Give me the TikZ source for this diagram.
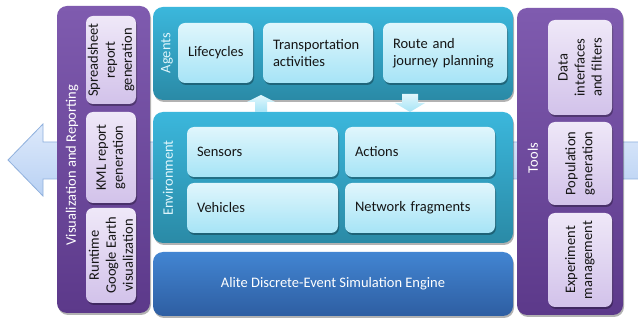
\documentclass[tikz,border=0pt]{standalone}
\usepackage{fontspec}
\setmainfont{Carlito}
\usetikzlibrary{shadows}
\definecolor{purpA}{HTML}{7F5BAF}
\definecolor{purpB}{HTML}{5C398A}
\definecolor{lavA}{HTML}{EFE8F8}
\definecolor{lavB}{HTML}{D2C2EA}
\definecolor{tealA}{HTML}{3BB7DC}
\definecolor{tealB}{HTML}{2A8AA6}
\definecolor{cyanA}{HTML}{E0F6FC}
\definecolor{cyanB}{HTML}{A6E4F6}
\definecolor{blueA}{HTML}{4285D2}
\definecolor{blueB}{HTML}{2E5EA2}
\definecolor{arrA}{HTML}{DDE9FB}
\definecolor{arrB}{HTML}{B9D1F3}
\definecolor{arrL}{HTML}{8FB0DD}
\definecolor{txt}{HTML}{151515}
\begin{document}
\begin{tikzpicture}[x=1pt,y=-1pt,font=\fontsize{14.5}{17}\selectfont,
  shad/.style={drop shadow={shadow xshift=1pt,shadow yshift=-2pt,opacity=0.3,fill=black}},
  panel/.style={rectangle,rounded corners=10pt,top color=purpA,bottom color=purpB,draw=none,shad,inner sep=0pt},
  pbox/.style={rectangle,rounded corners=7pt,top color=lavA,bottom color=lavB,draw=none,shad,inner sep=0pt},
  tpanel/.style={rectangle,rounded corners=10pt,top color=tealA,bottom color=tealB,draw=none,shad,inner sep=0pt},
  cbox/.style={rectangle,rounded corners=7pt,top color=cyanA,bottom color=cyanB,draw=none,shad,inner sep=0pt},
  btext/.style={text=txt,align=left,inner xsep=10pt,inner ysep=0pt},
  rtext/.style={rotate=90,text=txt,align=center,inner sep=0pt},
  wlabel/.style={rotate=90,text=white,inner sep=0pt},
  clabel/.style={rotate=90,text=cyanA,inner sep=0pt},
  bigarrow/.style={top color=arrA,bottom color=arrB,draw=arrL,line width=0.8pt,line join=miter},
  smallarrow/.style={top color=cyanA,bottom color=cyanB,draw=none}]
\useasboundingbox (0,0) rectangle (638,323);
\fill[white] (0,0) rectangle (638,323);
% background arrow
\path[bigarrow] (8,160) -- (43,124) -- (43,142) -- (640,142) -- (640,179) -- (43,179) -- (43,196) -- cycle;
% left panel
\node[panel,minimum width=93pt,minimum height=307pt] (viz) at (103.5,159.5) {};
\node[wlabel] (vizl) at (72,165) {Visualization and Reporting};
\node[pbox,minimum width=50pt,minimum height=88pt] (ss) at (111,60) {};
\node[rtext] (ssl) at (ss) {Spreadsheet\\report\\generation};
\node[pbox,minimum width=50pt,minimum height=91pt] (kml) at (111,157.5) {};
\node[rtext] (kmll) at (kml) {KML report\\generation};
\node[pbox,minimum width=50pt,minimum height=95pt] (ge) at (111,255.5) {};
\node[rtext] (gel) at (ge) {Runtime\\Google Earth\\visualization};
% agents
\node[tpanel,minimum width=360pt,minimum height=93pt] (agents) at (333,53.5) {};
\node[clabel] (agl) at (167,53) {Agents};
\node[cbox,btext,text width=55pt,minimum height=60pt] (life) at (215.5,53) {Lifecycles};
\node[cbox,btext,text width=90pt,minimum height=60pt] (trans) at (318,53) {Transportation\\activities};
\node[cbox,btext,text width=104pt,minimum height=60pt] (route) at (445,53) {Route and\\journey planning};
% environment
\node[tpanel,minimum width=360pt,minimum height=131pt] (env) at (333,177.5) {};
\node[clabel] (envl) at (168,178) {Environment};
\node[cbox,btext,text width=131pt,minimum height=50pt] (sens) at (262.5,152) {Sensors};
\node[cbox,btext,text width=130pt,minimum height=50pt] (act) at (420,152) {Actions};
\node[cbox,btext,text width=131pt,minimum height=50pt] (veh) at (262.5,208) {Vehicles};
\node[cbox,btext,text width=130pt,minimum height=50pt] (net) at (420,208) {Network fragments};
% agent/environment arrows
\path[smallarrow] (261,95) -- (275,102) -- (267,102) -- (267,112) -- (255,112) -- (255,102) -- (247,102) -- cycle;
\path[smallarrow] (402,94) -- (418,94) -- (418,103) -- (425,103) -- (410,112) -- (395,103) -- (402,103) -- cycle;
% engine
\node[rectangle,rounded corners=10pt,top color=blueA,bottom color=blueB,shad,minimum width=360pt,minimum height=64pt,text=white,inner sep=0pt] (eng) at (333,284) {Alite Discrete-Event Simulation Engine};
% tools
\node[panel,minimum width=106pt,minimum height=307pt] (tools) at (570,161.5) {};
\node[wlabel] (toolsl) at (533,158) {Tools};
\node[pbox,minimum width=64pt,minimum height=95pt] (data) at (580,67.5) {};
\node[rtext] (datal) at (data) {Data\\interfaces\\and filters};
\node[pbox,minimum width=64pt,minimum height=83pt] (pop) at (580,163.5) {};
\node[rtext] (popl) at (pop) {Population\\generation};
\node[pbox,minimum width=64pt,minimum height=94pt] (exp) at (580,260) {};
\node[rtext] (expl) at (exp) {Experiment\\management};
\end{tikzpicture}
\end{document}
